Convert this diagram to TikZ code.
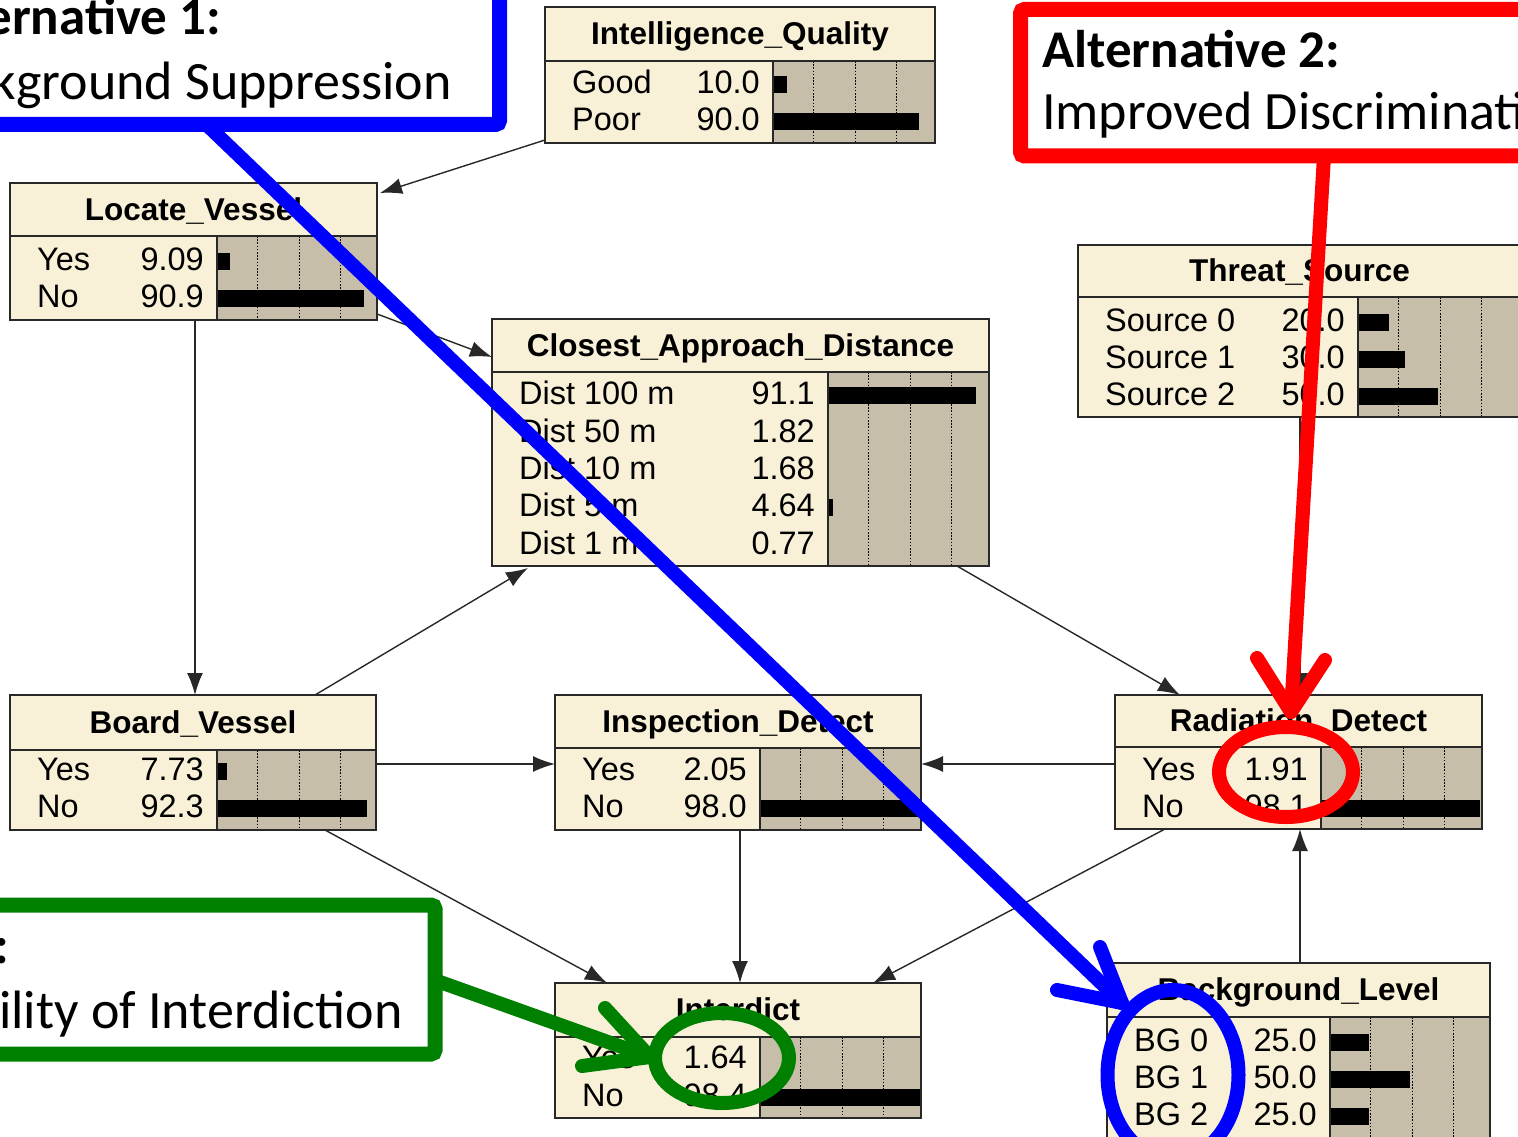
\documentclass[tikz,border=0pt]{standalone}
\usepackage{fontspec}
\setmainfont{Liberation Sans}
\newfontfamily\calfont{Carlito}
\usetikzlibrary{arrows.meta,shapes.geometric}

\definecolor{creamc}{RGB}{248,241,216}
\definecolor{panelc}{RGB}{198,190,168}
\definecolor{framec}{RGB}{40,40,40}
\definecolor{altblue}{RGB}{0,0,255}
\definecolor{altred}{RGB}{255,0,0}
\definecolor{altgreen}{RGB}{0,128,0}

\tikzset{
  bnframe/.style={draw=framec, line width=2pt, inner sep=0pt, outer sep=0pt},
  bnline/.style={draw=framec, line width=1.8pt},
  gridline/.style={black, line width=1.5pt, dash pattern=on 1.6pt off 1.6pt},
  bntitle/.style={anchor=base, inner sep=0pt, font=\fontsize{31.5}{36}\selectfont\bfseries},
  bnlabel/.style={anchor=base west, inner sep=0pt, font=\fontsize{32.5}{38}\selectfont},
  bnvalue/.style={anchor=base east, inner sep=0pt, font=\fontsize{32.5}{38}\selectfont},
  edge/.style={draw=framec, line width=1.4pt, -{Latex[length=22pt,width=16pt]}},
  callout/.style={line width=14pt, line cap=round, line join=round},
  altbox/.style={line width=15pt, rounded corners=4pt},
  alttitle/.style={inner sep=0pt, font=\calfont\bfseries\fontsize{53}{60}\selectfont},
  alttext/.style={inner sep=0pt, font=\calfont\fontsize{54}{62}\selectfont},
  ring/.style={ellipse, line width=14pt, inner sep=0pt, outer sep=0pt},
}

% Belief-bar node: name, left, top, bar-panel left, right, title rule, bottom, title, rows
\newcommand{\bnnode}[9]{%
  \fill[creamc] (#2,#3) rectangle (#5,#7);
  \fill[panelc] (#4,#6) rectangle (#5,#7);
  \foreach \g in {40.5,82.5,123.5}{\draw[gridline] (#4+\g,#6) -- (#4+\g,#7);}
  \draw[bnline] (#2,#6) -- (#5,#6) (#4,#6) -- (#4,#7);
  \node[bntitle] (#1-title) at ({(#2+#5)/2},{(#3+#6)/2+10.5}) {#8};
  \foreach \ry/\rl/\rv/\rp in {#9}{%
    \node[bnlabel] (#1-l\ry) at (#2+27,\ry+11.5) {\rl};
    \node[bnvalue] (#1-v\ry) at (#4-13,\ry+11.5) {\rv};
    \pgfmathsetmacro\barlen{1.65*\rp-3.5}
    \ifdim\barlen pt>0.5pt
      \fill[black] (#4+1,\ry-6) rectangle (#4+1+\barlen,\ry+11);
    \fi
  }
  \node[bnframe, minimum width={(#5-#2)*1pt}, minimum height={(#7-#3)*1pt}] (#1)
    at ({(#2+#5)/2},{(#3+#7)/2}) {};
}

\begin{document}
\begin{tikzpicture}[x=1pt,y=-1pt]
\useasboundingbox (0,0) rectangle (1518,1137);
\clip (0,0) rectangle (1518,1137);
\fill[white] (0,0) rectangle (1518,1137);

% network nodes
\bnnode{intel}{545}{7}{773}{935}{61}{143}{Intelligence\_Quality}
  {82/Good/10.0/10, 119/Poor/90.0/90}
\bnnode{locate}{10}{183}{217}{377}{236}{320}{Locate\_Vessel}
  {259/Yes/9.09/9.09, 296/No/90.9/90.9}
\bnnode{cad}{492}{319}{828}{989}{372}{566}{Closest\_Approach\_Distance}
  {393/Dist 100 m/91.1/91.1, 431/Dist 50 m/1.82/1.82, 468/Dist 10 m/1.68/1.68,
   505/Dist 5 m/4.64/4.64, 543/Dist 1 m/0.77/0.77}
\bnnode{threat}{1078}{245}{1358}{1521}{297}{417}{Threat\_Source}
  {320/Source 0/20.0/20, 357/Source 1/30.0/30, 394/Source 2/50.0/50}
\bnnode{board}{10}{695}{217}{376}{750}{830}{Board\_Vessel}
  {769/Yes/7.73/7.73, 806/No/92.3/92.3}
\bnnode{inspect}{555}{695}{760}{921}{748}{830}{Inspection\_Detect}
  {769/Yes/2.05/2.05, 806/No/98.0/98.0}
\bnnode{raddet}{1115}{695}{1321}{1482}{747}{829}{Radiation\_Detect}
  {769/Yes/1.91/1.91, 806/No/98.1/98.1}
\bnnode{interdict}{555}{983}{760}{921}{1037}{1118}{Interdict}
  {1057/Yes/1.64/1.64, 1095/No/98.4/98.4}
\bnnode{bglevel}{1107}{963}{1330}{1490}{1017}{1150}{Background\_Level}
  {1040/BG 0/25.0/25, 1077/BG 1/50.0/50, 1114/BG 2/25.0/25}

% dependencies
\draw[edge] ([yshift=3pt]intel.south west) -- ([xshift=3pt,yshift=-10pt]locate.north east);
\draw[edge] ([yshift=6pt]locate.south east) -- ([yshift=-38pt]cad.north west);
\draw[edge] ([xshift=185pt]locate.south west) -- ([xshift=185pt]board.north west);
\draw[edge] ([xshift=-61pt]board.north east) -- ([xshift=36pt,yshift=-2pt]cad.south west);
\draw[edge] ([yshift=-1.5pt]board.east) -- ([yshift=-1.5pt]inspect.west);
\draw[edge] ([xshift=-51pt]board.south east) -- ([xshift=52pt]interdict.north west);
\draw[edge] ([xshift=185pt]inspect.south west) -- ([xshift=185pt]interdict.north west);
\draw[edge] ([yshift=-2pt]raddet.west) -- ([yshift=-1.5pt]inspect.east);
\draw[edge] ([xshift=50pt]raddet.south west) -- ([xshift=-48pt]interdict.north east);
\draw[edge] ([xshift=-32pt]cad.south east) -- ([xshift=65pt]raddet.north west);
\draw[edge] ([xshift=222pt]threat.south west) -- ([xshift=185pt]raddet.north west);
\draw[edge] ([xshift=193pt]bglevel.north west) -- ([xshift=185pt]raddet.south west);

% Alternative 1 callout
\draw[altbox, altblue] (-40,-40) rectangle (499.5,124.5);
\node[alttitle, anchor=base east] (alt1title) at (221,35) {Alternative 1:};
\node[alttext, anchor=base east] (alt1text) at (452,100) {Background Suppression};
\node[ring, draw=altblue, minimum width=131pt, minimum height=170pt] (ring1) at (1173,1075) {};
\coordinate (alt1foot) at (208,126);
\coordinate (alt1tip) at (1122,1003);
\coordinate (alt1armA) at (1100,947);
\coordinate (alt1armB) at (1057,990);
\draw[callout, altblue] (alt1foot) -- (alt1tip);
\draw[callout, altblue] (alt1armA) -- (alt1tip) -- (alt1armB);

% Alternative 2 callout
\draw[altbox, altred] (1020.5,9.5) rectangle (1560,156);
\node[alttitle, anchor=base west] (alt2title) at (1042,68) {Alternative 2:};
\node[alttext, anchor=base west] (alt2text) at (1042,130) {Improved Discrimination};
\node[ring, draw=altred, minimum width=134pt, minimum height=90pt] (ring2) at (1286,772) {};
\coordinate (alt2foot) at (1324,156);
\coordinate (alt2tip) at (1291,712);
\coordinate (alt2armA) at (1257,658);
\coordinate (alt2armB) at (1325,660);
\draw[callout, altred] (alt2foot) -- (alt2tip);
\draw[callout, altred] (alt2armA) -- (alt2tip) -- (alt2armB);

% objective callout
\draw[altbox, altgreen] (-40,905) rectangle (435,1054);
\node[alttitle, anchor=base east] (alt3title) at (9,963) {Objective:};
\node[alttext, anchor=base east] (alt3text) at (403,1028) {Probability of Interdiction};
\node[ring, draw=altgreen, minimum width=134pt, minimum height=90pt] (ring3) at (722,1058) {};
\coordinate (alt3foot) at (440,982);
\coordinate (alt3tip) at (650,1057);
\coordinate (alt3armA) at (605,1008);
\coordinate (alt3armB) at (582,1066);
\draw[callout, altgreen] (alt3foot) -- (alt3tip);
\draw[callout, altgreen] (alt3armA) -- (alt3tip) -- (alt3armB);
\end{tikzpicture}
\end{document}
